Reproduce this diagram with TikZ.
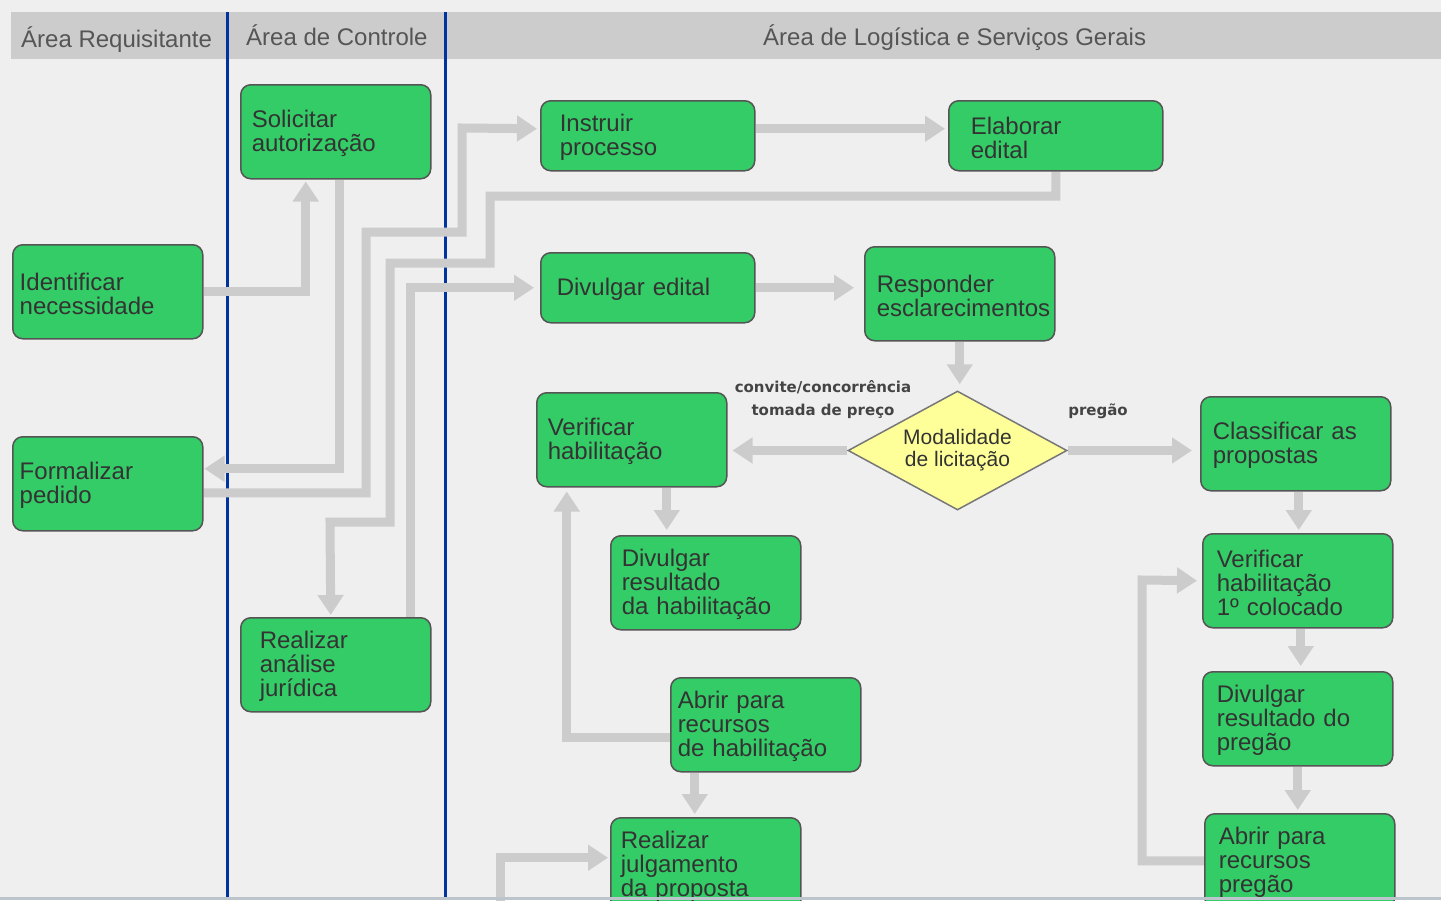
\documentclass[tikz,border=0pt]{standalone}
\usepackage{fontspec}
\setmainfont{Liberation Sans}
\newfontfamily\labfont{DejaVu Sans}
\usetikzlibrary{arrows.meta,shapes.geometric}
\pgfdeclarelayer{back}
\pgfdeclarelayer{mid}
\pgfsetlayers{back,mid,main}
\definecolor{pagebg}{HTML}{EFEFEF}
\definecolor{hdrgray}{HTML}{CCCCCC}
\definecolor{hdrtext}{HTML}{555555}
\definecolor{laneblue}{HTML}{0033A0}
\definecolor{boxgreen}{HTML}{33CC66}
\definecolor{boxborder}{HTML}{555555}
\definecolor{boxtext}{HTML}{333333}
\definecolor{flowgray}{HTML}{CCCCCC}
\definecolor{decfill}{HTML}{FFFF99}
\definecolor{decborder}{HTML}{777777}
\definecolor{labtext}{HTML}{444444}
\definecolor{bottomline}{HTML}{BCC4CC}
\begin{document}
\begin{tikzpicture}[x=1pt,y=-1pt,
  proc/.style={draw=boxborder, fill=boxgreen, line width=1.5pt, rounded corners=10pt,
    anchor=north west, align=left, inner ysep=0pt, text=boxtext,
    font=\fontsize{24pt}{24pt}\selectfont, execute at begin node={\rule{0pt}{21pt}}},
  decision/.style={diamond, aspect=2, inner sep=0pt, minimum width=219pt, minimum height=119pt,
    draw=decborder, fill=decfill, line width=1.5pt, align=center, text=boxtext,
    font=\fontsize{21pt}{22pt}\selectfont},
  hdr/.style={anchor=base west, text=hdrtext, font=\fontsize{24pt}{24pt}\selectfont, inner sep=0pt},
  lab/.style={text=labtext, font=\labfont\bfseries\fontsize{15pt}{15pt}\selectfont, inner sep=0pt},
  lane/.style={draw=laneblue, line width=3pt},
  flow/.style={draw=flowgray, line width=9pt, line join=miter,
    -{Triangle[width=25pt,length=20pt]}}
]
\useasboundingbox (0,0) rectangle (1441,900);

\begin{pgfonlayer}{back}
  \fill[pagebg] (0,0) rectangle (1441,900);
  \fill[hdrgray] (11,12) rectangle (1441,59);
  \draw[lane] (227,12) -- (227,897);
  \draw[lane] (445,12) -- (445,897);
\end{pgfonlayer}

% headers
\node[hdr] (h1) at (21,47) {Área Requisitante};
\node[hdr] (h2) at (246,45) {Área de Controle};
\node[hdr] (h3) at (763,45) {Área de Logística e Serviços Gerais};

% process boxes
\node[proc, minimum width=190pt, minimum height=94pt, text width=176pt, inner xsep=7pt] (ident) at (12,244) {Identificar\\necessidade};
\node[proc, minimum width=190pt, minimum height=94pt, text width=176pt, inner xsep=7pt] (formal) at (12,436) {Formalizar\\pedido};
\node[proc, minimum width=190pt, minimum height=94pt, text width=168pt, inner xsep=11pt] (solic) at (240,84) {Solicitar\\autorização};
\node[proc, minimum width=190pt, minimum height=94pt, text width=152pt, inner xsep=19pt] (analise) at (240,617) {Realizar\\análise\\jurídica};
\node[proc, minimum width=214pt, minimum height=70pt, text width=176pt, inner xsep=19pt] (instr) at (540,100) {Instruir\\processo};
\node[proc, minimum width=214pt, minimum height=70pt, text width=170pt, inner xsep=22pt] (elab) at (948,100) {Elaborar\\edital};
\node[proc, minimum width=214pt, minimum height=70pt, text width=182pt, inner xsep=16pt] (divedit) at (540,252) {Divulgar edital};
\node[proc, minimum width=190pt, minimum height=94pt, text width=166pt, inner xsep=12pt] (resp) at (864,246) {Responder\\esclarecimentos};
\node[proc, minimum width=190pt, minimum height=94pt, text width=168pt, inner xsep=11pt] (verif) at (536,392) {Verificar\\habilitação};
\node[proc, minimum width=190pt, minimum height=94pt, text width=168pt, inner xsep=11pt] (divres) at (610,535) {Divulgar\\resultado\\da habilitação};
\node[proc, minimum width=190pt, minimum height=94pt, text width=176pt, inner xsep=7pt] (abrhab) at (670,677) {Abrir para\\recursos\\de habilitação};
\node[proc, minimum width=190pt, minimum height=94pt, text width=170pt, inner xsep=10pt] (julg) at (610,817) {Realizar\\julgamento\\da proposta};
\node[proc, minimum width=190pt, minimum height=94pt, text width=166pt, inner xsep=12pt] (class) at (1200,396) {Classificar as\\propostas};
\node[proc, minimum width=190pt, minimum height=94pt, text width=162pt, inner xsep=14pt] (verif1) at (1202,533) {Verificar\\habilitação\\1º colocado};
\node[proc, minimum width=190pt, minimum height=94pt, text width=162pt, inner xsep=14pt] (divpreg) at (1202,671) {Divulgar\\resultado do\\pregão};
\node[proc, minimum width=190pt, minimum height=94pt, text width=162pt, inner xsep=14pt] (abrpreg) at (1204,813) {Abrir para\\recursos\\pregão};

% decision
\node[decision] (diam) at (957.5,450.5) {Modalidade\\de licitação};

% labels
\node[lab] (l1) at (823,387) {convite/concorrência};
\node[lab] (l2) at (823,411) {tomada de preço};
\node[lab] (l3) at (1098,411) {pregão};

\coordinate (nstart) at (500,910);

\begin{pgfonlayer}{mid}
  \draw[flow, shorten >=2pt] (ident.east) -| ([xshift=-30pt]solic.south);
  \draw[flow, shorten >=1pt] ([xshift=4pt]solic.south) |- ([yshift=15pt]formal.east);
  \draw[flow, shorten >=3pt] ([yshift=-9pt]formal.east) -| (366,232) -| (462,128) -- ([yshift=7pt]instr.west);
  \draw[flow, shorten >=3pt] ([yshift=7pt]instr.east) -- ([yshift=7pt]elab.west);
  \draw[flow, shorten >=2pt] (elab.south) |- (490,196) |- (390,263) |- (330,522) -- ([xshift=-5pt]analise.north);
  \draw[flow, shorten >=6pt] ([xshift=75pt]analise.north) |- (divedit.west);
  \draw[flow, shorten >=10pt] (divedit.east) -- (divedit.east -| resp.west);
  \draw[flow, shorten >=6pt] (resp.south) -- (resp.south |- diam.north);
  \draw[flow, shorten >=5pt] (diam.west) -- (diam.west -| verif.east);
  \draw[flow, shorten >=8pt] (diam.east) -- (diam.east -| class.west);
  \draw[flow, shorten >=5pt] ([xshift=35pt]verif.south) -- ([xshift=35pt]verif.south |- divres.north);
  \draw[flow, shorten >=4pt] ([yshift=-13pt]abrhab.west) -| ([xshift=-65pt]verif.south);
  \draw[flow, shorten >=3pt] ([xshift=-71pt]abrhab.south) -- ([xshift=-71pt]abrhab.south |- julg.north);
  \draw[flow, shorten >=2pt] (nstart) |- ([yshift=7pt]julg.west);
  \draw[flow, shorten >=3pt] ([xshift=3pt]class.south) -- ([xshift=3pt]class.south |- verif1.north);
  \draw[flow, shorten >=5pt] ([xshift=3pt]verif1.south) -- ([xshift=3pt]verif1.south |- divpreg.north);
  \draw[flow, shorten >=3pt] (divpreg.south) -- (divpreg.south |- abrpreg.north);
  \draw[flow, shorten >=5pt] (abrpreg.west) -| (1142,580) -- (verif1.west);
\end{pgfonlayer}

\fill[bottomline] (0,897) rectangle (1441,900);
\end{tikzpicture}
\end{document}
